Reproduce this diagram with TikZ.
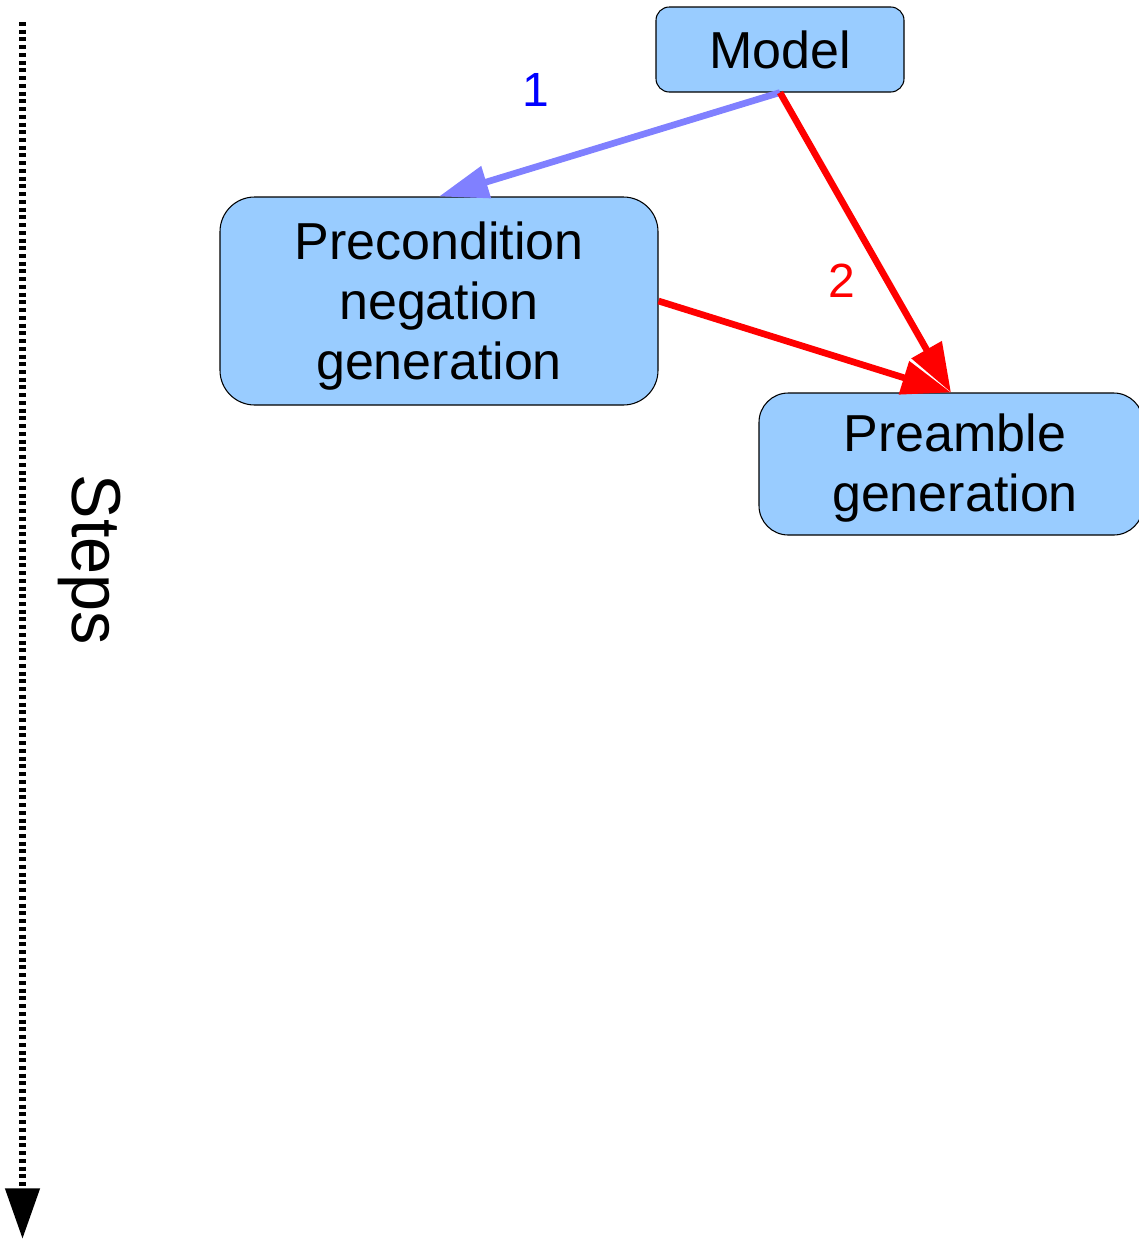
\documentclass[tikz,border=0pt]{standalone}
\usepackage{fontspec}
\setmainfont{Liberation Sans}
\usetikzlibrary{arrows.meta}
\definecolor{boxblue}{HTML}{99CCFF}
\definecolor{arrowblue}{HTML}{8080FF}
\tikzset{
  box/.style={draw=black, line width=0.8pt, fill=boxblue, inner sep=0pt, align=center,
    font=\fontsize{39}{45}\selectfont},
  bluearrow/.style={draw=arrowblue, line width=5pt, -{Triangle[length=37pt,width=24pt]}},
  redarrow/.style={draw=red, line width=5pt, -{Triangle[length=37pt,width=25pt]}},
  steparrow/.style={draw=black, line width=5pt, dash pattern=on 3pt off 2.8pt,
    -{Triangle[length=38pt,width=25pt]}},
  numlabel/.style={font=\fontsize{36}{40}\selectfont, inner sep=0pt}
}
\begin{document}
\begin{tikzpicture}[x=0.75pt, y=-0.75pt]
\useasboundingbox (0,0) rectangle (1139,1239);
\node[box, minimum width=186pt, minimum height=63.75pt, rounded corners=10pt] (model) at (780,49.5) {Model};
\node[box, minimum width=328.5pt, minimum height=156pt, rounded corners=26pt] (pre) at (439,301) {\rule{0pt}{36.5pt}Precondition\\negation\\generation};
\node[box, minimum width=288pt, minimum height=106.5pt, rounded corners=22pt] (preamble) at (951,464) {\rule{0pt}{35pt}\hspace*{6pt}Preamble\\\hspace*{6pt}generation};
\draw[bluearrow] (model.south) -- (pre.north);
\draw[redarrow] (model.south) -- (preamble.north);
\draw[redarrow] (pre.east) -- (preamble.north);
\node[numlabel, text=blue] (lab1) at (536,90) {1};
\node[numlabel, text=red] (lab2) at (842,281) {2};
\coordinate (s0) at (22.5,22);
\coordinate (s1) at (22.5,1239);
\draw[steparrow] (s0) -- (s1);
\node[rotate=-90, inner sep=0pt, font=\fontsize{52}{60}\selectfont] (steps) at (90,560) {\scalebox{0.96}[1]{Steps}};
\end{tikzpicture}
\end{document}
